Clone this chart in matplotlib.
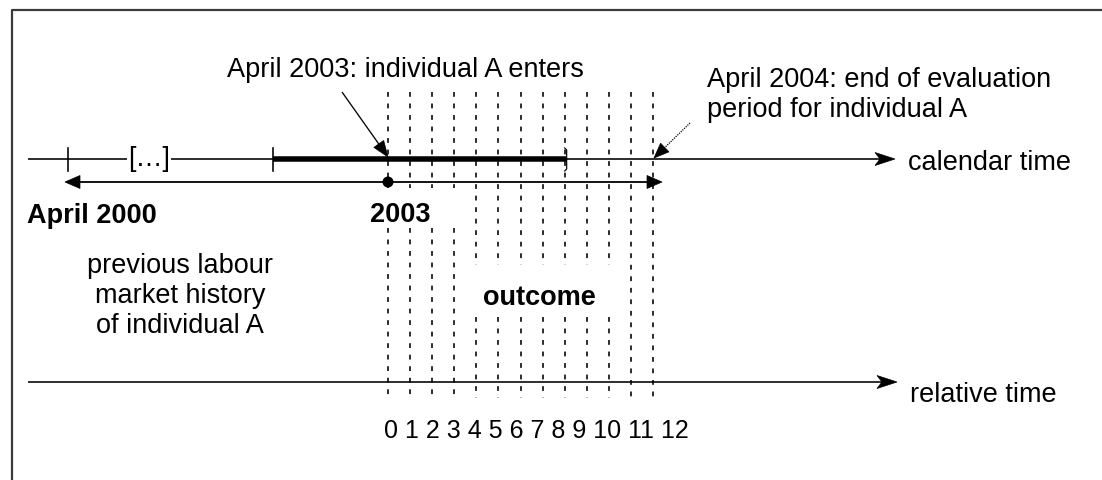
import matplotlib
matplotlib.use('Agg')
import matplotlib.pyplot as plt
from matplotlib.patches import Polygon, Circle

plt.rcParams['font.family'] = ['Liberation Sans', 'DejaVu Sans']

# ---- data / labels ----
months = [0, 1, 2, 3, 4, 5, 6, 7, 8, 9, 10, 11, 12]
month_labels = ['0', '1', '2', '3', '4', '5', '6', '7', '8', '9', '10', '11', '12']
gap_2003 = [0, 1, 2, 3]            # dashed lines interrupted by the "2003" label
gap_outcome = [4, 5, 6, 7, 8, 9, 10]  # dashed lines interrupted by "outcome"
entry_label = 'April 2003: individual A enters'
end_label = 'April 2004: end of evaluation\nperiod for individual A'
start_label = 'April 2000'
entry_year = '2003'
break_label = '[\u2026]'
history_label = 'previous labour\nmarket history\nof individual A'
outcome_label = 'outcome'
axis_labels = ['calendar time', 'relative time']

FS = 19.5
LS = 1.2

fig = plt.figure(figsize=(11.02, 4.8), dpi=100)
ax = fig.add_axes([0, 0, 1, 1])
ax.set_xlim(0, 1102)
ax.set_ylim(480, 0)
ax.axis('off')

X0, X12 = 388.0, 653.0
def mx(m):
    return X0 + (X12 - X0) * m / 12.0

def px(p):
    return p * 0.72

def head(tx, ty, ux, uy, length, half, notch=0.0):
    bx, by = tx - ux * length, ty - uy * length
    nx, ny = -uy, ux
    pts = [(tx, ty), (bx + nx * half, by + ny * half),
           (tx - ux * (length - notch), ty - uy * (length - notch)),
           (bx - nx * half, by - ny * half)]
    ax.add_patch(Polygon(pts, closed=True, fc='black', ec='black', lw=0.5, zorder=5))

def arrow(x0, y0, x1, y1, lw, length, half, notch=0.0, ls='-'):
    dx, dy = x1 - x0, y1 - y0
    d = (dx * dx + dy * dy) ** 0.5
    ux, uy = dx / d, dy / d
    ex, ey = x1 - ux * (length - notch - 1), y1 - uy * (length - notch - 1)
    ax.plot([x0, ex], [y0, ey], color='black', lw=px(lw), ls=ls, solid_capstyle='butt')
    head(x1, y1, ux, uy, length, half, notch)

# frame (top and left visible)
ax.plot([12, 12, 1200], [600, 10, 10], color='#3a3a3a', lw=px(2.2))

# ---- calendar time axis ----
yc = 159
arrow(28, yc, 895, yc, 1.6, 20, 6.5, notch=5)
ax.plot([273, mx(8) + 1], [yc, yc], color='black', lw=px(5.5), solid_capstyle='butt')
for tx in (68, 273):
    ax.plot([tx, tx], [148, 171], color='black', lw=px(1.6))
bx = mx(8) + 2
ax.plot([bx - 2, bx, bx, bx - 2], [148, 150, 169, 171], color='black', lw=px(1.2))
ax.text(149, 166, break_label, fontsize=FS, ha='center', va='baseline',
        bbox=dict(fc='white', ec='none', pad=0.5))
ax.text(908, 170, axis_labels[0], fontsize=FS, ha='left', va='baseline')

# ---- previous history double arrow ----
yd = 182
arrow(mx(0), yd, 65, yd, 1.8, 15, 6.5)
arrow(mx(0), yd, 662, yd, 1.8, 15, 6.5)
ax.add_patch(Circle((mx(0), yd), 5.5, fc='black', ec='none', zorder=6))

ax.text(27, 223, start_label, fontsize=FS, fontweight='bold', ha='left', va='baseline')
ax.text(370, 222, entry_year, fontsize=FS, fontweight='bold', ha='left', va='baseline')
ax.text(180, 333, history_label, fontsize=FS, ha='center', va='baseline',
        linespacing=LS, multialignment='center')
ax.text(539, 305, outcome_label, fontsize=FS, fontweight='bold', ha='center', va='baseline')

# ---- annotations ----
ax.text(227, 77, entry_label, fontsize=FS, ha='left', va='baseline')
arrow(342, 92, mx(0), 157, 1.3, 16, 6)
ax.text(707, 117, end_label, fontsize=FS, ha='left', va='baseline', linespacing=LS)
arrow(690, 123, mx(12) + 1, 158, 1.3, 15, 6, ls=(0, (0.9, 0.9)))

# ---- dashed month lines ----
dash = (0, (3.0, 4.2))
for m in months:
    x = mx(m)
    if m in gap_2003:
        segs = [(92, 188), (228, 398)]
    elif m in gap_outcome:
        segs = [(92, 265), (317, 398)]
    else:
        segs = [(92, 398)]
    for a, b in segs:
        ax.plot([x, x], [a, b], color='black', lw=px(1.6), ls=dash, zorder=3)

# ---- relative time axis ----
yr = 382
arrow(28, yr, 897, yr, 1.6, 20, 6.5, notch=5)
ax.text(910, 402, axis_labels[1], fontsize=FS, ha='left', va='baseline')
ax.text(384, 438, ' '.join(month_labels), fontsize=18, ha='left', va='baseline')

fig.savefig('out.png', dpi=100, facecolor='white')
